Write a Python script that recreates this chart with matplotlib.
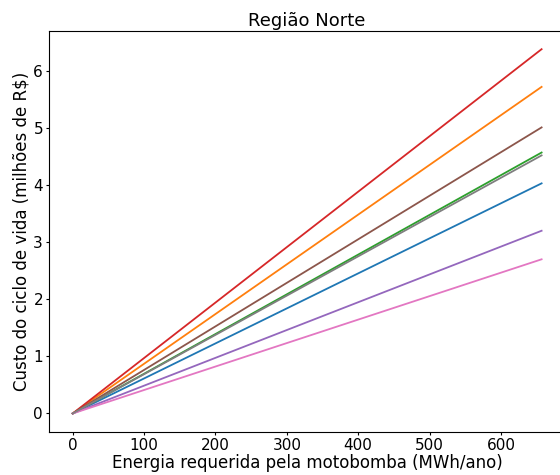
import numpy as np
import matplotlib
matplotlib.use('Agg')
import matplotlib.pyplot as plt

# energia requerida (MWh/ano) nos extremos de cada reta
energia = [0, 657]

# custo do ciclo de vida (milhões de R$) ao final de cada cenário
custo_final = [4.03, 5.72, 4.57, 6.38, 3.20, 5.01, 2.70, 4.52]

fig = plt.figure(figsize=(5.6, 4.75), dpi=100)
ax = fig.add_axes([0.088, 0.0912, 0.921, 0.8436])

for c in custo_final:
    ax.plot(energia, [0, c], lw=1.3)

ax.set_title('Região Norte', fontsize=13, pad=3.5)
ax.set_xlabel('Energia requerida pela motobomba (MWh/ano)', fontsize=12, labelpad=1)
ax.set_ylabel('Custo do ciclo de vida (milhões de R$)', fontsize=12, labelpad=2)
ax.tick_params(labelsize=11, length=2.5, pad=2)

fig.savefig('out.png', dpi=100)
